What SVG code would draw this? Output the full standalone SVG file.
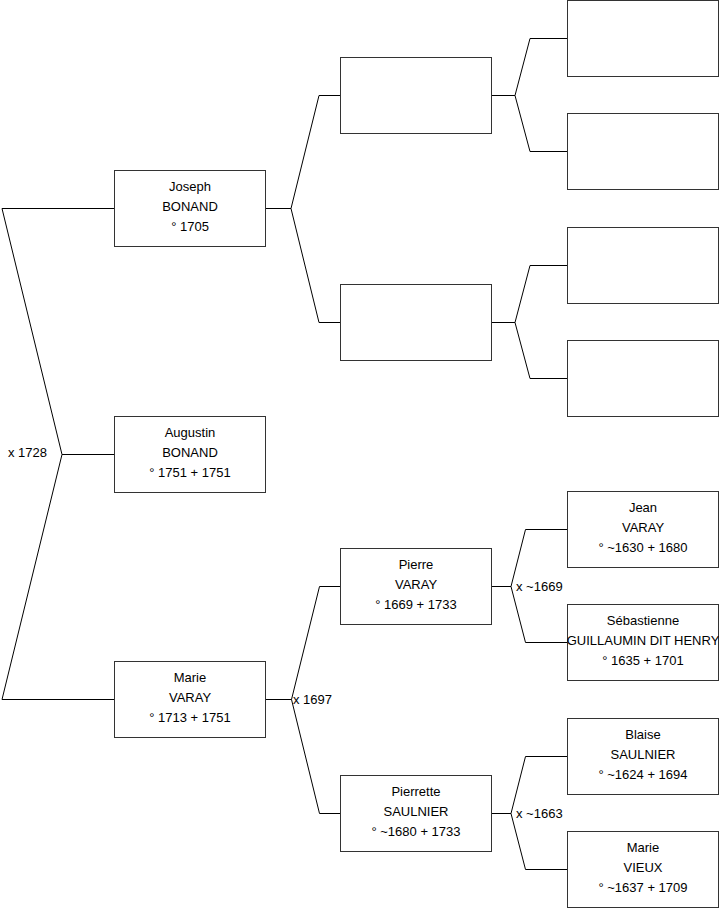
<svg xmlns="http://www.w3.org/2000/svg" width="719" height="908" viewBox="0 0 719 908">
<style>
.box{fill:#fff;stroke:#333;stroke-width:1}
.t{font-family:"Liberation Sans",Arial,sans-serif;font-size:13px;fill:#000;text-anchor:middle}
.l{font-family:"Liberation Sans",Arial,sans-serif;font-size:13px;fill:#000}
.c{fill:none;stroke:#000;stroke-width:1}
</style>
<rect width="719" height="908" fill="#fff"/>
<g id="connectors" class="c">
<path d="M114.5,208.5 H2 L62,454.5 L2,699.5 H114.5 M62,454.5 H114.5"/>
<path d="M265.5,208.5 H291 L319,95.5 H340.5 M291,208.5 L319,322.5 H340.5"/>
<path d="M265.5,699.5 H291.5 L319.5,586.5 H340.5 M291.5,699.5 L319.5,813.5 H340.5"/>
<path d="M491.5,95.5 H515 L530,38.5 H567.5 M515,95.5 L530,151.5 H567.5"/>
<path d="M491.5,322.5 H515 L530,265.5 H567.5 M515,322.5 L530,378.5 H567.5"/>
<path d="M491.5,586.5 H511 L525.5,529.5 H567.5 M511,586.5 L525.5,642.5 H567.5"/>
<path d="M491.5,813.5 H511 L525.5,756.5 H567.5 M511,813.5 L525.5,869.5 H567.5"/>
</g>
<g id="labels">
<text class="l" x="8" y="457">x 1728</text>
<text class="l" x="293" y="704">x 1697</text>
<text class="l" x="516" y="591">x ~1669</text>
<text class="l" x="516" y="818">x ~1663</text>
</g>
<g id="joseph"><rect class="box" x="114.5" y="170.5" width="151" height="76"/>
<text class="t" x="190" y="191">Joseph</text><text class="t" x="190" y="211">BONAND</text><text class="t" x="190" y="231">° 1705</text></g>
<g id="augustin"><rect class="box" x="114.5" y="416.5" width="151" height="76"/>
<text class="t" x="190" y="437">Augustin</text><text class="t" x="190" y="457">BONAND</text><text class="t" x="190" y="477">° 1751 + 1751</text></g>
<g id="marie"><rect class="box" x="114.5" y="661.5" width="151" height="76"/>
<text class="t" x="190" y="682">Marie</text><text class="t" x="190" y="702">VARAY</text><text class="t" x="190" y="722">° 1713 + 1751</text></g>
<g id="f1"><rect class="box" x="340.5" y="57.5" width="151" height="76"/></g>
<g id="m1"><rect class="box" x="340.5" y="284.5" width="151" height="76"/></g>
<g id="pierre"><rect class="box" x="340.5" y="548.5" width="151" height="76"/>
<text class="t" x="416" y="569">Pierre</text><text class="t" x="416" y="589">VARAY</text><text class="t" x="416" y="609">° 1669 + 1733</text></g>
<g id="pierrette"><rect class="box" x="340.5" y="775.5" width="151" height="76"/>
<text class="t" x="416" y="796">Pierrette</text><text class="t" x="416" y="816">SAULNIER</text><text class="t" x="416" y="836">° ~1680 + 1733</text></g>
<g id="ff1"><rect class="box" x="567.5" y="0.5" width="151" height="76"/></g>
<g id="fm1"><rect class="box" x="567.5" y="113.5" width="151" height="76"/></g>
<g id="mf1"><rect class="box" x="567.5" y="227.5" width="151" height="76"/></g>
<g id="mm1"><rect class="box" x="567.5" y="340.5" width="151" height="76"/></g>
<g id="jean"><rect class="box" x="567.5" y="491.5" width="151" height="76"/>
<text class="t" x="643" y="512">Jean</text><text class="t" x="643" y="532">VARAY</text><text class="t" x="643" y="552">° ~1630 + 1680</text></g>
<g id="sebastienne"><rect class="box" x="567.5" y="604.5" width="151" height="76"/>
<text class="t" x="643" y="625">Sébastienne</text><text class="t" x="643" y="645">GUILLAUMIN DIT HENRY</text><text class="t" x="643" y="665">° 1635 + 1701</text></g>
<g id="blaise"><rect class="box" x="567.5" y="718.5" width="151" height="76"/>
<text class="t" x="643" y="739">Blaise</text><text class="t" x="643" y="759">SAULNIER</text><text class="t" x="643" y="779">° ~1624 + 1694</text></g>
<g id="marie-vieux"><rect class="box" x="567.5" y="831.5" width="151" height="76"/>
<text class="t" x="643" y="852">Marie</text><text class="t" x="643" y="872">VIEUX</text><text class="t" x="643" y="892">° ~1637 + 1709</text></g>
</svg>
